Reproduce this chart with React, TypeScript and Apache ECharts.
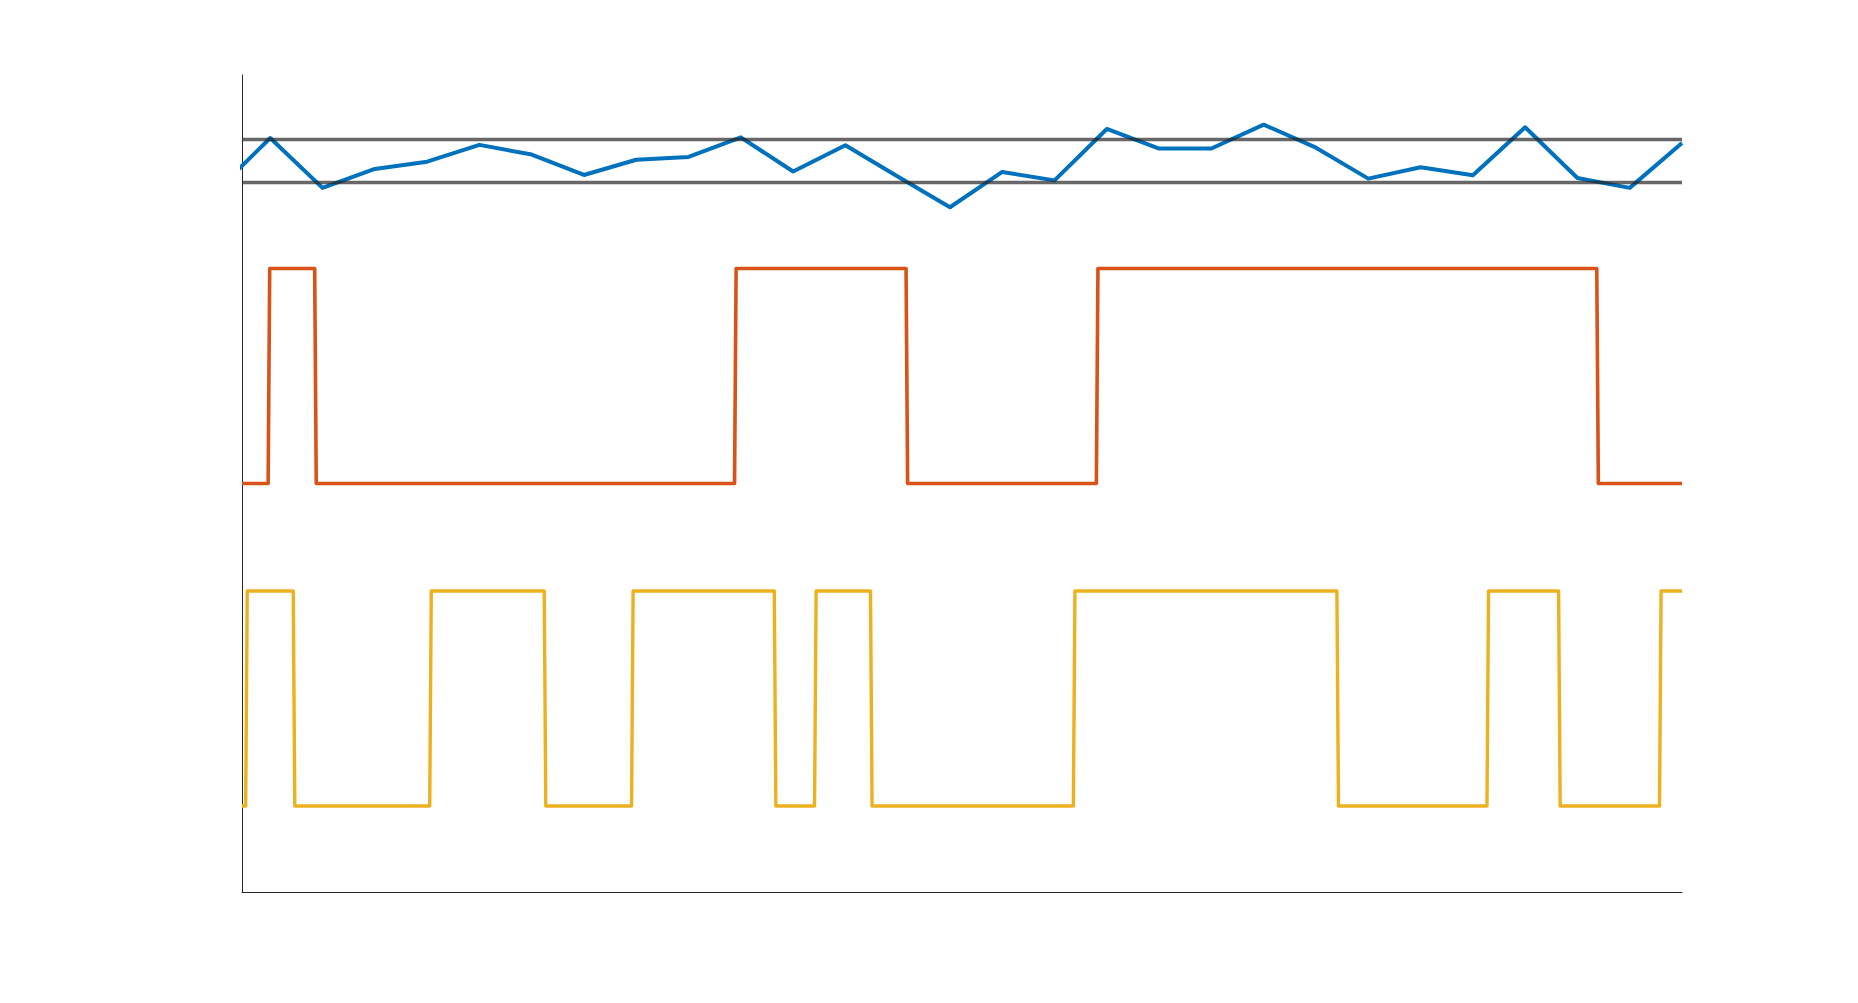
import React, { useEffect, useRef } from "react";
import * as echarts from "echarts";

// x is in sample units of the blue trace; the axis starts a little after sample 0
const xMin = 0.46;
const xMax = 28;
const yMin = -0.4;
const yMax = 3.4;

const blueX = [0, 1, 2, 3, 4, 5, 6, 7, 8, 9, 10, 11, 12, 13, 14, 15, 16, 17, 18, 19, 20, 21, 22, 23, 24, 25, 26, 27, 28];
const blueY = [
  2.867, 3.107, 2.875, 2.963, 2.997, 3.075, 3.03, 2.935, 3.006, 3.019, 3.11, 2.951, 3.073, 2.928, 2.785,
  2.949, 2.91, 3.149, 3.058, 3.058, 3.169, 3.062, 2.918, 2.971, 2.934, 3.157, 2.921, 2.875, 3.084,
];

const thresholds = [2.9, 3.1];

// switching times of the two on/off traces (both start low)
const orangeEdges = [0.96, 1.85, 9.88, 13.16, 16.8, 26.37];
const orangeLevels = [1.5, 2.5];
const yellowEdges = [0.53, 1.44, 4.05, 6.24, 7.91, 10.64, 11.41, 12.48, 16.36, 21.4, 24.27, 25.64, 27.57];
const yellowLevels = [0, 1];

const style: React.CSSProperties = { position: "fixed", left: 0, top: 0, width: "1858px", height: "1003px" };

const stepData = (edges: number[], levels: number[]) => {
  const out: number[][] = [];
  let state = 0;
  out.push([xMin, levels[state]]);
  edges.forEach((t) => {
    out.push([t, levels[state]]);
    state = 1 - state;
    out.push([t + 0.03, levels[state]]);
  });
  out.push([xMax, levels[state]]);
  return out;
};

const App: React.FC = () => {
  const chartRef = useRef<HTMLDivElement>(null);

  useEffect(() => {
    if (!chartRef.current) return;
    const myChart = echarts.init(chartRef.current, undefined, { renderer: "svg" });

    const axisLine = { show: true, onZero: false, lineStyle: { color: "#262626", width: 1 } };

    const option = {
      animation: false,
      backgroundColor: "#ffffff",
      grid: { left: 242, right: 176, top: 75, bottom: 111, containLabel: false },
      xAxis: {
        type: "value",
        min: xMin,
        max: xMax,
        axisLine,
        axisTick: { show: false },
        axisLabel: { show: false },
        splitLine: { show: false },
      },
      yAxis: {
        type: "value",
        min: yMin,
        max: yMax,
        axisLine,
        axisTick: { show: false },
        axisLabel: { show: false },
        splitLine: { show: false },
      },
      series: [
        {
          type: "line",
          data: blueX.map((x, i) => [x, blueY[i]]),
          symbol: "none",
          clip: true,
          lineStyle: { color: "#0072BD", width: 4, join: "round" },
        },
        {
          type: "line",
          data: stepData(orangeEdges, orangeLevels),
          symbol: "none",
          clip: true,
          lineStyle: { color: "#D95319", width: 3.6, join: "round" },
        },
        {
          type: "line",
          data: stepData(yellowEdges, yellowLevels),
          symbol: "none",
          clip: true,
          lineStyle: { color: "#EDB120", width: 3.4, join: "round" },
        },
        ...thresholds.map((v) => ({
          type: "line",
          data: [
            [xMin, v],
            [xMax, v],
          ],
          symbol: "none",
          lineStyle: { color: "#262626", width: 3.3, opacity: 0.7 },
        })),
      ],
    };

    myChart.setOption(option);

    return () => {
      myChart.dispose();
    };
  }, []);

  return <div ref={chartRef} style={style} />;
};

export default App;
